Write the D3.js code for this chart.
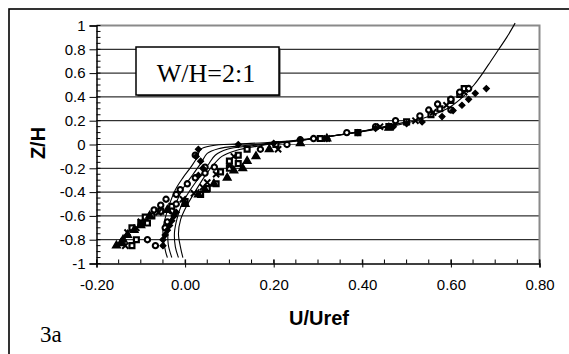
<!DOCTYPE html>
<html><head><meta charset="utf-8">
<script src="https://cdn.jsdelivr.net/npm/d3@7"></script>
<style>body{margin:0;background:#fff}svg{display:block}</style>
</head><body>
<svg id="c" width="569" height="354"></svg>
<script>
// ---- data ----
const xTicks = [-0.2, 0.0, 0.2, 0.4, 0.6, 0.8];
const yTicks = [-1, -0.8, -0.6, -0.4, -0.2, 0, 0.2, 0.4, 0.6, 0.8, 1];
const xLabel = "U/Uref";
const yLabel = "Z/H";
const boxLabel = "W/H=2:1";
const panelLabel = "3a";

// model curves [U/Uref, Z/H]
const lineA = [[0.745,1.02],[0.726,0.9],[0.708,0.8],[0.69,0.7],[0.672,0.6],[0.652,0.5],[0.63,0.41],[0.6,0.32],[0.56,0.25],[0.5,0.18],[0.42,0.12],[0.33,0.07],[0.25,0.035],[0.18,0.015],[0.12,0.005],[0.06,-0.01],[0.035,-0.04],[0.028,-0.1],[0.015,-0.18],[-0.005,-0.28],[-0.022,-0.38],[-0.035,-0.5],[-0.045,-0.62],[-0.05,-0.72],[-0.048,-0.82],[-0.044,-0.9],[-0.04,-0.95]];
const lineB = [[0.5,0.19],[0.41,0.12],[0.32,0.065],[0.22,0.02],[0.13,-0.01],[0.075,-0.035],[0.05,-0.075],[0.037,-0.15],[0.018,-0.25],[-0.003,-0.36],[-0.018,-0.47],[-0.03,-0.6],[-0.038,-0.72],[-0.038,-0.84],[-0.03,-0.95]];
const lineC = [[0.48,0.17],[0.4,0.11],[0.31,0.06],[0.23,0.02],[0.15,-0.01],[0.095,-0.04],[0.068,-0.09],[0.052,-0.17],[0.033,-0.27],[0.012,-0.38],[-0.007,-0.5],[-0.018,-0.62],[-0.024,-0.74],[-0.022,-0.86],[-0.015,-0.95]];
const lineD = [[0.46,0.15],[0.38,0.1],[0.3,0.055],[0.24,0.025],[0.17,-0.01],[0.115,-0.05],[0.083,-0.1],[0.062,-0.18],[0.042,-0.28],[0.022,-0.4],[0.003,-0.52],[-0.01,-0.63],[-0.015,-0.75],[-0.01,-0.87],[-0.005,-0.95]];

// measurements
const diamonds = [[0.68,0.47],[0.655,0.43],[0.64,0.38],[0.625,0.33],[0.605,0.285],[0.58,0.235],[0.535,0.19],[0.5,0.175],[0.47,0.15],[0.43,0.135],[0.39,0.1],[0.32,0.05],[0.26,0.04],[0.2,0.01],[0.12,0.0],[0.03,-0.04],[0.025,-0.1],[0.035,-0.14],[0.04,-0.2],[0.03,-0.26],[-0.02,-0.57],[-0.025,-0.6],[-0.03,-0.64],[-0.035,-0.68],[-0.04,-0.72],[-0.045,-0.76],[-0.05,-0.8],[-0.05,-0.85]];
const circles = [[0.64,0.47],[0.62,0.44],[0.6,0.38],[0.6,0.29],[0.57,0.34],[0.55,0.29],[0.53,0.24],[0.475,0.2],[0.43,0.15],[0.365,0.1],[0.29,0.05],[0.26,0.04],[0.23,0.0],[0.17,-0.04],[0.023,-0.09],[0.045,-0.19],[0.066,-0.19],[0.045,-0.24],[0.023,-0.28],[0.005,-0.33],[-0.011,-0.38],[-0.02,-0.42],[-0.043,-0.46],[-0.055,-0.51],[-0.07,-0.55],[-0.085,-0.8],[-0.067,-0.85],[-0.02,-0.5],[-0.03,-0.56],[-0.04,-0.65],[-0.045,-0.7]];
const squares = [[0.63,0.47],[0.62,0.42],[0.6,0.37],[0.575,0.3],[0.555,0.25],[0.5,0.19],[0.46,0.15],[0.39,0.1],[0.305,0.05],[0.205,0.0],[0.14,-0.04],[0.12,-0.09],[0.1,-0.14],[0.12,-0.16],[0.1,-0.2],[0.08,-0.23],[0.07,-0.33],[0.05,-0.37],[0.035,-0.42],[0.0,-0.48],[-0.03,-0.52],[-0.055,-0.56],[-0.075,-0.6],[-0.09,-0.61],[-0.1,-0.66],[-0.085,-0.66],[-0.12,-0.7],[-0.11,-0.8],[-0.12,-0.85]];
const triangles = [[0.46,0.14],[0.32,0.05],[0.26,0.01],[0.19,-0.04],[0.16,-0.1],[0.14,-0.14],[0.13,-0.2],[0.11,-0.22],[0.095,-0.28],[0.065,-0.33],[0.045,-0.38],[0.03,-0.42],[0.0,-0.5],[-0.04,-0.55],[-0.08,-0.6],[-0.1,-0.68],[-0.115,-0.72],[-0.13,-0.76],[-0.14,-0.8],[-0.155,-0.85],[-0.145,-0.83]];
const crosses = [[0.63,0.44],[0.59,0.33],[0.56,0.27],[0.52,0.2],[0.44,0.15],[0.32,0.05],[0.21,-0.04],[0.11,-0.1],[0.1,-0.18],[0.07,-0.25],[0.05,-0.32],[0.04,-0.36],[0.02,-0.41],[-0.005,-0.46],[-0.06,-0.57],[-0.1,-0.65],[-0.11,-0.7],[-0.13,-0.74],[-0.14,-0.82],[-0.135,-0.85]];

// ---- drawing ----
const svg = d3.select("#c");
const X0 = 96.5, X1 = 539.5, Y0 = 263.5, Y1 = 25.5;
const x = d3.scaleLinear().domain([-0.2, 0.8]).range([X0, X1]);
const y = d3.scaleLinear().domain([-1, 1]).range([Y0, Y1]);

// outer frame
svg.append("rect").attr("x", 9).attr("y", 9).attr("width", 600).attr("height", 400)
  .attr("fill", "none").attr("stroke", "#000").attr("stroke-width", 1.6);

// gridlines
svg.append("g").selectAll("line").data(yTicks.filter(d => d > -1 && d < 1)).join("line")
  .attr("x1", X0).attr("x2", X1).attr("y1", d => y(d)).attr("y2", d => y(d))
  .attr("stroke", d => d === 0 ? "#666" : "#000").attr("stroke-width", 1);

// plot border top/right grey
svg.append("path").attr("d", `M${X0},${Y1}H${X1}V${Y0}`).attr("fill", "none")
  .attr("stroke", "#8a8a8a").attr("stroke-width", 2);

// minor ticks
const minorX = d3.range(-0.2, 0.8001, 0.05);
const minorY = d3.range(-1, 1.0001, 0.05);
svg.append("g").selectAll("line").data(minorX).join("line")
  .attr("x1", d => x(d)).attr("x2", d => x(d)).attr("y1", Y0).attr("y2", Y0 - 4)
  .attr("stroke", "#000").attr("stroke-width", 1);
svg.append("g").selectAll("line").data(minorY).join("line")
  .attr("y1", d => y(d)).attr("y2", d => y(d)).attr("x1", X0).attr("x2", X0 + 4)
  .attr("stroke", "#000").attr("stroke-width", 1);

// axes
const xAxis = d3.axisBottom(x).tickValues(xTicks).tickSize(4).tickPadding(12)
  .tickFormat(d => d.toFixed(2));
const gx = svg.append("g").attr("transform", `translate(0,${Y0})`).call(xAxis);
gx.select(".domain").attr("stroke", "#000").attr("stroke-width", 1.5);
gx.selectAll(".tick line").attr("y1", -4).attr("stroke-width", 1);
gx.selectAll("text").attr("font-family", "Liberation Sans, Arial, sans-serif").attr("font-size", 15).attr("fill", "#000");

const yAxis = d3.axisLeft(y).tickValues(yTicks).tickSize(7).tickPadding(4)
  .tickFormat(d => String(+d.toFixed(1)));
const gy = svg.append("g").attr("transform", `translate(${X0},0)`).call(yAxis);
gy.select(".domain").attr("stroke", "#000").attr("stroke-width", 1.5);
gy.selectAll(".tick line").attr("stroke-width", 1);
gy.selectAll("text").attr("font-family", "Liberation Sans, Arial, sans-serif").attr("font-size", 15).attr("fill", "#000");

// curves
const line = d3.line().x(d => x(d[0])).y(d => y(d[1])).curve(d3.curveCatmullRom.alpha(0.5));
svg.append("g").selectAll("path").data([lineA, lineB, lineC, lineD]).join("path")
  .attr("d", line).attr("fill", "none").attr("stroke", "#000").attr("stroke-width", 1.1);

// markers
const g = svg.append("g");
function mark(data, type, size, filled, rot, sw) {
  g.append("g").selectAll("path").data(data).join("path")
    .attr("d", d3.symbol().type(type).size(size))
    .attr("transform", d => `translate(${x(d[0])},${y(d[1])})${rot ? " rotate(45)" : ""}`)
    .attr("fill", filled ? "#000" : "#fff")
    .attr("stroke", "#000").attr("stroke-width", sw);
}
mark(squares, d3.symbolSquare, 24, false, false, 2.2);
mark(circles, d3.symbolCircle, 22, false, false, 2.1);
mark(triangles, d3.symbolTriangle, 26, true, false, 1.4);
mark(crosses, d3.symbolTimes, 26, false, false, 2);
mark(diamonds, d3.symbolSquare, 18, true, true, 1.2);

// box label
svg.append("rect").attr("x", 137.5).attr("y", 48.5).attr("width", 143).attr("height", 48)
  .attr("fill", "#333");
svg.append("rect").attr("x", 136).attr("y", 47).attr("width", 143).attr("height", 48)
  .attr("fill", "#fff").attr("stroke", "#000").attr("stroke-width", 1.5);
svg.append("text").attr("x", 206).attr("y", 81.5).attr("text-anchor", "middle")
  .attr("font-family", "Liberation Serif, Times New Roman, serif").attr("font-size", 26)
  .text(boxLabel);

// axis titles
svg.append("text").attr("x", 319).attr("y", 325).attr("text-anchor", "middle")
  .attr("font-family", "Liberation Sans, Arial, sans-serif").attr("font-size", 20).attr("font-weight", "bold")
  .text(xLabel);
svg.append("text").attr("transform", "translate(45,143) rotate(-90)").attr("text-anchor", "middle")
  .attr("font-family", "Liberation Sans, Arial, sans-serif").attr("font-size", 20).attr("font-weight", "bold")
  .text(yLabel);
svg.append("text").attr("x", 40).attr("y", 341.5)
  .attr("font-family", "Liberation Serif, Times New Roman, serif").attr("font-size", 23)
  .text(panelLabel);
</script>
</body></html>
